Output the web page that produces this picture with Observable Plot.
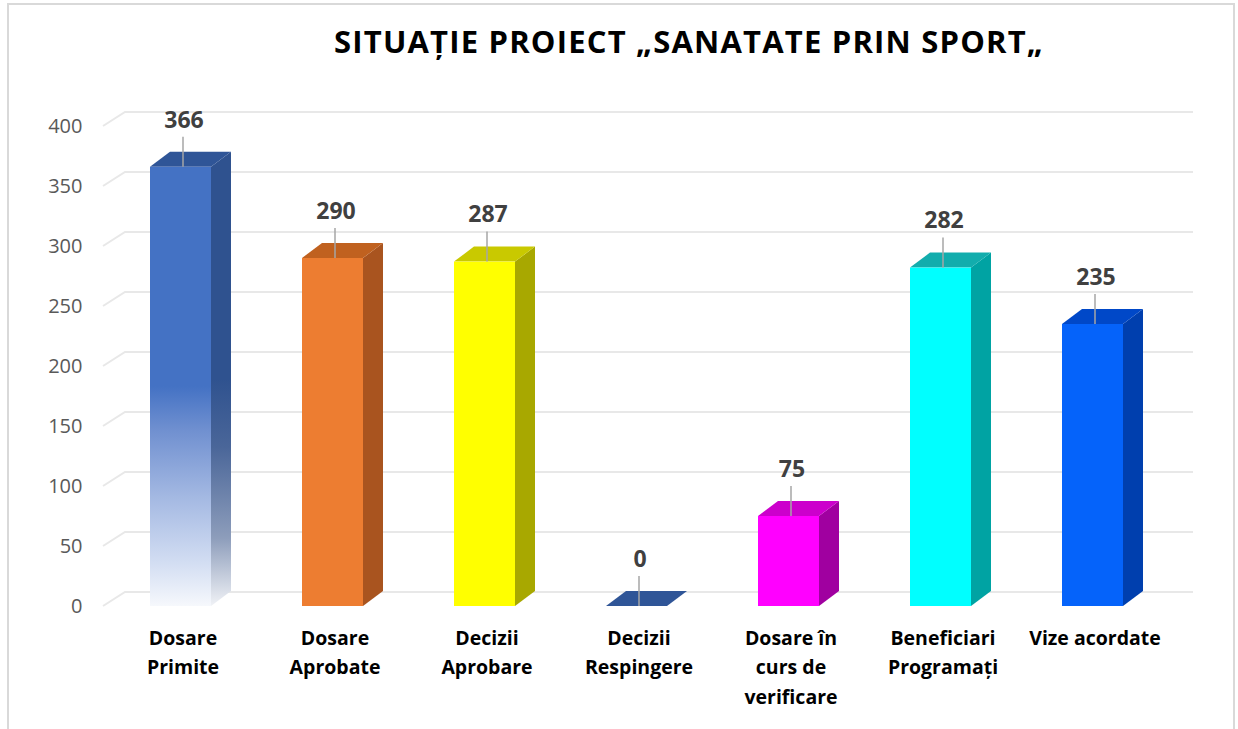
<!DOCTYPE html>
<html>
<head>
<meta charset="utf-8">
<script src="https://cdn.jsdelivr.net/npm/d3@7"></script>
<script src="https://cdn.jsdelivr.net/npm/@observablehq/plot@0.6"></script>
<style>
  html, body { margin: 0; padding: 0; background: #ffffff; }
  #wrap { position: relative; width: 1238px; height: 729px; overflow: hidden; font-family: "Open Sans", sans-serif; }
  #frame { position: absolute; left: 7px; top: 3px; width: 1228px; height: 760px; border: 2px solid #d9d9d9; box-sizing: border-box; pointer-events: none; }
  #title { margin: 0; height: 80px; box-sizing: border-box; padding-top: 20px; padding-left: 140px; text-align: center;
           font-family: "Open Sans", sans-serif; font-weight: 700; font-size: 31px; letter-spacing: 1.2px; line-height: 42px; color: #000; white-space: nowrap; }
  #chart svg { display: block; }
</style>
</head>
<body>
<div id="wrap">
  <div id="title">SITUAȚIE PROIECT „SANATATE PRIN SPORT„</div>
  <div id="chart"></div>
  <div id="frame"></div>
</div>
<script>
// ---- data ----
const categories = ["Dosare Primite", "Dosare Aprobate", "Decizii Aprobare", "Decizii Respingere", "Dosare în curs de verificare", "Beneficiari Programați", "Vize acordate"];
const values = [366, 290, 287, 0, 75, 282, 235];
const categoryLabels = ["Dosare\nPrimite", "Dosare\nAprobate", "Decizii\nAprobare", "Decizii\nRespingere", "Dosare în\ncurs de\nverificare", "Beneficiari\nProgramați", "Vize acordate"];
const yTicks = [0, 50, 100, 150, 200, 250, 300, 350, 400];

// ---- styles ----
const frontFill = ["url(#gradFront)", "#ED7D31", "#FFFF00", "#2F5597", "#FF00FF", "#00FFFF", "#0563FA"];
const sideFill = ["url(#gradSide)", "#A9541F", "#A8A800", "#2F5597", "#A000A0", "#00A3A3", "#003FAE"];
const topFill = ["#2F5597", "#C0611F", "#C9C900", "#2F5597", "#CC00CC", "#12ADAD", "#0048C8"];
const DX = 20, DY = -15;        // bar depth
const WX = 22, WY = -14;        // back wall offset

const rows = categories.map((c, i) => ({category: c, value: values[i], label: categoryLabels[i]}));

function backWall(index, scales, vals, dims) {
  const y = scales.y;
  const g = d3.create("svg:g");
  const x0 = dims.marginLeft - 1;
  const x1 = dims.width - dims.marginRight + 25;
  for (const t of yTicks) {
    const yy = y(t);
    g.append("path")
      .attr("d", `M${x0},${yy}L${x0 + WX},${yy + WY}L${x1},${yy + WY}`)
      .attr("fill", "none").attr("stroke", "#e8e8e8").attr("stroke-width", 2);
  }
  return g.node();
}

function depthFaces(index, scales) {
  const x = scales.x, y = scales.y;
  const bw = x.bandwidth ? x.bandwidth() : 60;
  const g = d3.create("svg:g");
  const defs = g.append("defs");
  const gf = defs.append("linearGradient").attr("id", "gradFront").attr("x1", 0).attr("y1", 0).attr("x2", 0).attr("y2", 1);
  [[0, "#4472C4"], [0.5, "#4472C4"], [0.6, "#7090D0"], [0.75, "#A3B8E2"], [0.9, "#D2DDF2"], [1, "#F6F8FC"]]
    .forEach(([o, c]) => gf.append("stop").attr("offset", o).attr("stop-color", c));
  const gs = defs.append("linearGradient").attr("id", "gradSide").attr("x1", 0).attr("y1", 0).attr("x2", 0).attr("y2", 1);
  [[0, "#2F528F"], [0.5, "#2F528F"], [0.65, "#4A6699"], [0.85, "#8D9DBB"], [1, "#F0F2F6"]]
    .forEach(([o, c]) => gs.append("stop").attr("offset", o).attr("stop-color", c));
  rows.forEach((d, i) => {
    const xl = x(d.category), xr = xl + bw, yt = y(d.value), yb = y(0);
    if (d.value > 0) {
      g.append("path")
        .attr("d", `M${xr},${yt}L${xr + DX},${yt + DY}L${xr + DX},${yb + DY}L${xr},${yb}Z`)
        .attr("fill", sideFill[i]);
    }
    g.append("path")
      .attr("d", `M${xl},${yt}L${xl + DX},${yt + DY}L${xr + DX},${yt + DY}L${xr},${yt}Z`)
      .attr("fill", topFill[i]);
  });
  return g.node();
}

const chart = Plot.plot({
  width: 1238,
  height: 649,
  marginTop: 46,
  marginBottom: 123,
  marginLeft: 104,
  marginRight: 70,
  style: {background: "transparent", fontFamily: '"Open Sans", sans-serif', overflow: "visible"},
  x: {domain: categories, paddingInner: 0.6, paddingOuter: 0.3, axis: null},
  y: {domain: [0, 400], axis: null},
  color: {domain: categories, range: frontFill},
  marks: [
    backWall,
    Plot.axisY({ticks: yTicks, tickSize: 0, tickPadding: 22, fontSize: 20, color: "#595959", label: null}),
    depthFaces,
    Plot.barY(rows, {x: "category", y: "value", fill: "category"}),
    Plot.ruleX(rows, {x: "category", y1: "value", y2: d => d.value + 25, dx: 2, stroke: "#a6a6a6", strokeWidth: 1.5}),
    Plot.text(rows, {x: "category", y: "value", text: d => String(d.value), dy: -47, dx: 3, fontSize: 23, fontWeight: "bold", fill: "#404040"}),
    Plot.text(rows, {x: "category", y: 0, text: "label", dy: 17, dx: 2, lineAnchor: "top", lineHeight: 1.52, fontSize: 19.5, fontWeight: "bold", fill: "#000000"})
  ]
});
document.getElementById("chart").appendChild(chart);
</script>
</body>
</html>
